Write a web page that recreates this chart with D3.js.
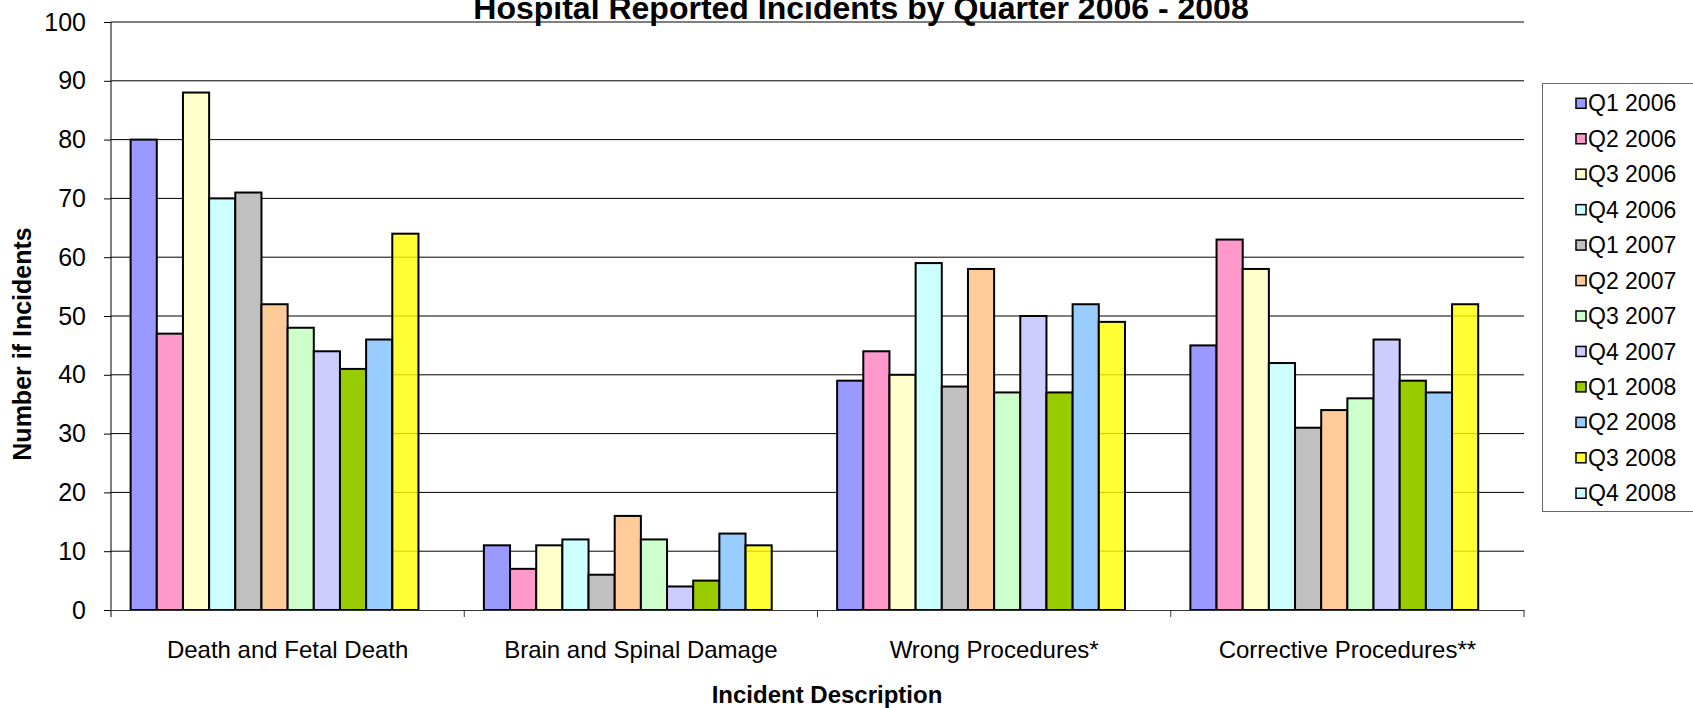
<!DOCTYPE html>
<html>
<head>
<meta charset="utf-8">
<script src="https://cdn.jsdelivr.net/npm/d3@7"></script>
<style>
  html, body { margin: 0; padding: 0; background: #fff; }
  svg { display: block; font-family: "Liberation Sans", Arial, sans-serif; }
</style>
</head>
<body>
<div id="wrapper"></div>
<script>
// Categorias e séries
const categories = ["Death and Fetal Death", "Brain and Spinal Damage", "Wrong Procedures*", "Corrective Procedures**"];
const quarters = ["Q1 2006", "Q2 2006", "Q3 2006", "Q4 2006", "Q1 2007", "Q2 2007",
                  "Q3 2007", "Q4 2007", "Q1 2008", "Q2 2008", "Q3 2008", "Q4 2008"];

const q1_2006 = [80, 11, 39, 45];
const q2_2006 = [47, 7, 44, 63];
const q3_2006 = [88, 11, 40, 58];
const q4_2006 = [70, 12, 59, 42];
const q1_2007 = [71, 6, 38, 31];
const q2_2007 = [52, 16, 58, 34];
const q3_2007 = [48, 12, 37, 36];
const q4_2007 = [44, 4, 50, 46];
const q1_2008 = [41, 5, 37, 39];
const q2_2008 = [46, 13, 52, 37];
const q3_2008 = [64, 11, 49, 52];
const q4_2008 = [null, null, null, null];   // sem dados, só aparece na legenda

const yTicks = [0, 10, 20, 30, 40, 50, 60, 70, 80, 90, 100];

const colors = ["#9999FF", "#FF99CC", "#FFFFCC", "#CCFFFF", "#C0C0C0", "#FFCC99",
                "#CCFFCC", "#CCCCFF", "#99CC00", "#99CCFF", "rgba(255,255,0,0.8)", "#CCFFFF"];

function draw() {
  const series = [q1_2006, q2_2006, q3_2006, q4_2006, q1_2007, q2_2007,
                  q3_2007, q4_2007, q1_2008, q2_2008, q3_2008, q4_2008];

  const dimensions = {
    width: 1693,
    height: 708,
    margin: { top: 22, right: 169, bottom: 98, left: 111 }
  };
  const plotRight = dimensions.width - dimensions.margin.right;
  const plotBottom = dimensions.height - dimensions.margin.bottom;

  const svg = d3.select("#wrapper")
    .append("svg")
      .attr("width", dimensions.width)
      .attr("height", dimensions.height);

  // Escalas
  const x0 = d3.scaleBand().domain(categories)
    .range([dimensions.margin.left, plotRight]).padding(0);
  const x1 = d3.scaleBand().domain(quarters)
    .range([0, x0.bandwidth()]).paddingInner(0).paddingOuter(0.75);
  const y = d3.scaleLinear().domain([0, 100])
    .range([plotBottom, dimensions.margin.top]);
  const color = d3.scaleOrdinal().domain(quarters).range(colors);

  // Linhas de grade
  svg.append("g")
    .selectAll("line")
    .data(yTicks.slice(1))
    .join("line")
      .attr("x1", dimensions.margin.left)
      .attr("x2", plotRight)
      .attr("y1", d => y(d))
      .attr("y2", d => y(d))
      .attr("stroke", "#000")
      .attr("stroke-width", 1);

  // Eixo y
  const yAxis = svg.append("g")
    .attr("transform", "translate(" + dimensions.margin.left + ",0)")
    .call(d3.axisLeft(y).tickValues(yTicks).tickSize(7).tickPadding(18).tickSizeOuter(0));
  yAxis.select(".domain").remove();
  yAxis.append("line")
    .attr("x1", 0).attr("x2", 0)
    .attr("y1", y(100)).attr("y2", plotBottom + 7)
    .attr("stroke", "#000");
  yAxis.selectAll(".tick line").attr("stroke", "#000");
  yAxis.selectAll(".tick text")
    .attr("fill", "#000")
    .style("font-size", "25px")
    .style("font-family", "\"Liberation Sans\", Arial, sans-serif");

  // Barras
  const groups = svg.append("g")
    .selectAll("g")
    .data(categories)
    .join("g")
      .attr("transform", d => "translate(" + x0(d) + ",0)");

  groups.selectAll("rect")
    .data((c, ci) => quarters.map((q, qi) => ({ q: q, v: series[qi][ci] })).filter(d => d.v != null))
    .join("rect")
      .attr("x", d => x1(d.q))
      .attr("y", d => y(d.v))
      .attr("width", x1.bandwidth())
      .attr("height", d => y(0) - y(d.v))
      .attr("fill", d => color(d.q))
      .attr("stroke", "#000")
      .attr("stroke-width", 2);

  // Eixo x
  const xAxis = svg.append("g")
    .attr("transform", "translate(0," + plotBottom + ")")
    .call(d3.axisBottom(x0).tickSize(0).tickPadding(31));
  xAxis.select(".domain").attr("stroke", "#333");
  xAxis.selectAll(".tick text")
    .attr("fill", "#000")
    .style("font-size", "24px")
    .style("font-family", "\"Liberation Sans\", Arial, sans-serif");
  xAxis.append("g")
    .selectAll("line")
    .data(categories.slice(1).map(c => x0(c)).concat([plotRight]))
    .join("line")
      .attr("x1", d => d).attr("x2", d => d)
      .attr("y1", 0).attr("y2", 7)
      .attr("stroke", "#333");

  // Títulos
  svg.append("text")
    .attr("x", 861)
    .attr("y", 18.5)
    .attr("text-anchor", "middle")
    .style("font-size", "32px")
    .style("font-weight", "bold")
    .text("Hospital Reported Incidents by Quarter 2006 - 2008");

  svg.append("text")
    .attr("x", 827)
    .attr("y", 703)
    .attr("text-anchor", "middle")
    .style("font-size", "24px")
    .style("font-weight", "bold")
    .text("Incident Description");

  svg.append("text")
    .attr("transform", "translate(31,344) rotate(-90)")
    .attr("text-anchor", "middle")
    .style("font-size", "25px")
    .style("font-weight", "bold")
    .text("Number if Incidents");

  // Legenda
  const legend = svg.append("g");
  legend.append("rect")
    .attr("x", 1542.5).attr("y", 83.5)
    .attr("width", 170).attr("height", 428)
    .attr("fill", "#fff")
    .attr("stroke", "#666");

  const items = legend.selectAll(".item")
    .data(quarters)
    .join("g")
      .attr("class", "item")
      .attr("transform", (d, i) => "translate(1576," + (103.3 + i * 35.45) + ")");
  items.append("rect")
    .attr("x", 0).attr("y", -5)
    .attr("width", 10).attr("height", 10)
    .attr("fill", d => color(d))
    .attr("stroke", "#000")
    .attr("stroke-width", 1.5);
  items.append("text")
    .attr("x", 12)
    .attr("dy", "0.35em")
    .style("font-size", "23px")
    .text(d => d);
}
draw();
</script>
</body>
</html>
